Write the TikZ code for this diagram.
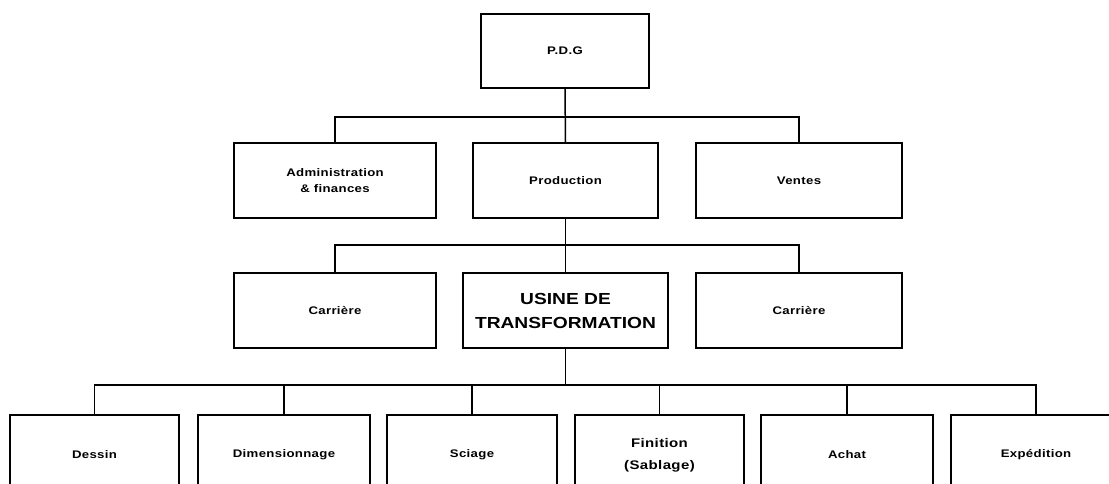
\documentclass[tikz,border=0pt]{standalone}
\usepackage{fontspec}
\setmainfont{Liberation Sans}
\newfontfamily\labelfont[FakeStretch=1.2,LetterSpace=3]{Liberation Sans}
\newfontfamily\widefont[FakeStretch=1.2]{Liberation Sans}
\begin{document}
\begin{tikzpicture}[x=1pt,y=-1pt,
  box/.style={draw=black,line width=1.7pt,rectangle,inner sep=0pt,align=center,
    font=\labelfont\fontsize{11}{16}\selectfont\bfseries,text=black},
  big/.style={font=\widefont\fontsize{16}{24}\selectfont\bfseries},
  mid/.style={font=\labelfont\fontsize{12.5}{22}\selectfont\bfseries},
  link/.style={draw=black,line width=1.5pt}]
\useasboundingbox (0,0) rectangle (1109,483);
\fill[white] (0,0) rectangle (1109,483);
\clip (0,0) rectangle (1109,483);
% row 1
\node[box,minimum width=168pt,minimum height=74pt] (pdg) at (565,51) {P.D.G};
% row 2
\node[box,minimum width=202pt,minimum height=75pt] (admin) at (335,180.5) {Administration\\ \& finances};
\node[box,minimum width=185pt,minimum height=75pt] (prod) at (565.5,180.5) {Production};
\node[box,minimum width=206pt,minimum height=75pt] (ventes) at (799,180.5) {Ventes};
% row 3
\node[box,minimum width=202pt,minimum height=75pt] (carr1) at (335,310.5) {Carrière};
\node[box,big,minimum width=205pt,minimum height=75pt] (usine) at (565.5,310.5) {USINE DE\\TRANSFORMATION};
\node[box,minimum width=206pt,minimum height=75pt] (carr2) at (799,310.5) {Carrière};
% row 4
\node[box,minimum width=169pt,minimum height=80pt] (dessin) at (94.5,455) {Dessin};
\node[box,minimum width=172pt,minimum height=80pt] (dim) at (284,455) {Dimensionnage};
\node[box,minimum width=170pt,minimum height=80pt] (sciage) at (472,455) {Sciage};
\node[box,mid,minimum width=169pt,minimum height=80pt] (fin) at (659.5,455) {Finition\\(Sablage)};
\node[box,minimum width=172pt,minimum height=80pt] (achat) at (847,455) {Achat};
\node[box,minimum width=170pt,minimum height=80pt] (exp) at (1036,455) {Expédition};
% bus coordinates
\coordinate (bus1) at (0,117);
\coordinate (bus2) at (0,245);
\coordinate (bus3) at (0,385);
% connectors
\draw[link] (pdg.south) -- (prod.north);
\draw[link] (admin.north) -- (admin.north |- bus1) -- (ventes.north |- bus1) -- (ventes.north);
\draw[link] (prod.south) -- (usine.north);
\draw[link] (carr1.north) -- (carr1.north |- bus2) -- (carr2.north |- bus2) -- (carr2.north);
\draw[link] (usine.south) -- (usine.south |- bus3);
\draw[link] (dessin.north) -- (dessin.north |- bus3) -- (exp.north |- bus3) -- (exp.north);
\draw[link] (dim.north) -- (dim.north |- bus3);
\draw[link] (sciage.north) -- (sciage.north |- bus3);
\draw[link] (fin.north) -- (fin.north |- bus3);
\draw[link] (achat.north) -- (achat.north |- bus3);
\end{tikzpicture}
\end{document}
